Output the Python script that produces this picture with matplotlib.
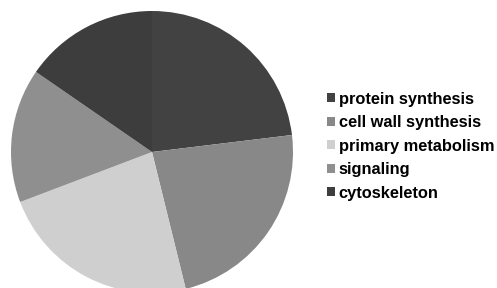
import matplotlib.pyplot as plt

categories = ["protein synthesis", "cell wall synthesis", "primary metabolism",
              "signaling", "cytoskeleton"]
counts = [15, 15, 15, 10, 10]
colors = ["#424242", "#888888", "#cfcfcf", "#8f8f8f", "#3d3d3d"]

fig = plt.figure(figsize=(4.97, 2.88), dpi=100)
# pie centred near (152, 152) px, radius ~141 px
ax = fig.add_axes([11 / 497, -5 / 288, 282 / 497, 282 / 288])
wedges, _ = ax.pie(counts, colors=colors, startangle=90, counterclock=False,
                   wedgeprops=dict(linewidth=0))
ax.set_xlim(-1, 1)
ax.set_ylim(-1, 1)
ax.set_aspect("equal")
ax.axis("off")

fig.legend(wedges, categories, loc="upper left", bbox_to_anchor=(320 / 497, 1 - 85 / 288),
           frameon=False, handlelength=0.5, handleheight=0.5, handletextpad=0.25,
           labelspacing=0.52, borderaxespad=0,
           prop=dict(family="Liberation Sans", weight="bold", size=11.8))

fig.savefig("out.png", dpi=100)
